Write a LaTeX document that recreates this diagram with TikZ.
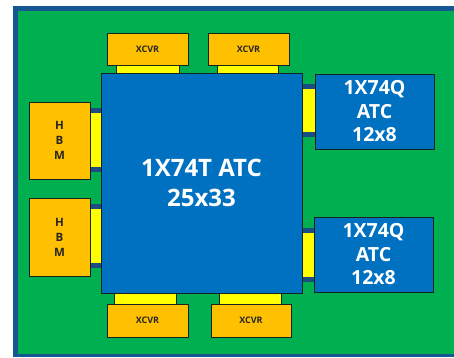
\documentclass[tikz,border=0pt]{standalone}
\usepackage{fontspec}
\setmainfont{Open Sans}
\definecolor{boardgreen}{RGB}{0,176,80}
\definecolor{boardedge}{RGB}{22,86,146}
\definecolor{chipblue}{RGB}{0,112,192}
\definecolor{memorange}{RGB}{255,192,0}
\definecolor{linkyellow}{RGB}{255,255,0}
\definecolor{bandblue}{RGB}{24,78,130}
\definecolor{outline}{RGB}{25,35,30}
\begin{document}
\begin{tikzpicture}[x=1pt,y=-1pt,
  box/.style={draw=outline,line width=0.8pt,inner sep=0pt,outer sep=0pt,anchor=center},
  chip/.style={box,fill=chipblue,text=white,font=\bfseries,align=center},
  mem/.style={box,fill=memorange,text=black!85,font=\bfseries,align=center},
  band/.style={fill=bandblue,draw=none,inner sep=0pt,outer sep=0pt,anchor=center},
  link/.style={fill=linkyellow,draw=none,inner sep=0pt,outer sep=0pt,anchor=center},
  linkbox/.style={fill=linkyellow,draw=outline,line width=0.6pt,inner sep=0pt,outer sep=0pt,anchor=center}]
\useasboundingbox (0,0) rectangle (454,357);
% board
\fill[boardedge] (13,6) rectangle (454,357);
\fill[boardgreen] (18,11) rectangle (454,354);
% right-side links
\node[band,minimum width=13pt,minimum height=53pt] (bandR1) at (308.5,110.5) {};
\node[link,minimum width=13pt,minimum height=43pt] (linkR1) at (308.5,110.5) {};
\node[band,minimum width=12pt,minimum height=54pt] (bandR2) at (308,255) {};
\node[link,minimum width=12pt,minimum height=44pt] (linkR2) at (308,255) {};
% left-side links
\node[band,minimum width=11pt,minimum height=64pt] (bandL1) at (95.5,140) {};
\node[link,minimum width=11pt,minimum height=54pt] (linkL1) at (95.5,140) {};
\node[band,minimum width=11pt,minimum height=64pt] (bandL2) at (95.5,236) {};
\node[link,minimum width=11pt,minimum height=54pt] (linkL2) at (95.5,236) {};
% top/bottom links
\node[linkbox,minimum width=63pt,minimum height=8pt] (linkT1) at (147.5,69) {};
\node[linkbox,minimum width=61pt,minimum height=8pt] (linkT2) at (247.5,69) {};
\node[linkbox,minimum width=62pt,minimum height=11pt] (linkB1) at (145,298.5) {};
\node[linkbox,minimum width=62pt,minimum height=11pt] (linkB2) at (250,298.5) {};
% main die
\node[chip,minimum width=201pt,minimum height=220pt,font=\bfseries\fontsize{24}{30}\selectfont] (main) at (201.5,183) {1X74T ATC\\25x33};
% right chiplets
\node[chip,minimum width=119pt,minimum height=75pt,font=\bfseries\fontsize{19.5}{23.5}\selectfont] (atc1) at (374.5,111.5) {1X74Q\\ATC\\12x8};
\node[chip,minimum width=119pt,minimum height=75pt,font=\bfseries\fontsize{19.5}{23.5}\selectfont] (atc2) at (373.5,254.5) {1X74Q\\ATC\\12x8};
% HBM
\node[mem,minimum width=61pt,minimum height=77pt,font=\bfseries\fontsize{11.5}{15}\selectfont] (hbm1) at (59.5,140.5) {H\\B\\M};
\node[mem,minimum width=61pt,minimum height=78pt,font=\bfseries\fontsize{11.5}{15}\selectfont] (hbm2) at (59.5,237) {H\\B\\M};
% XCVRs
\node[mem,minimum width=81pt,minimum height=32pt,font=\bfseries\fontsize{9}{11}\selectfont] (x1) at (147.5,49) {XCVR};
\node[mem,minimum width=81pt,minimum height=32pt,font=\bfseries\fontsize{9}{11}\selectfont] (x2) at (248.5,49) {XCVR};
\node[mem,minimum width=81pt,minimum height=33pt,font=\bfseries\fontsize{9}{11}\selectfont] (x3) at (147.5,320.5) {XCVR};
\node[mem,minimum width=80pt,minimum height=33pt,font=\bfseries\fontsize{9}{11}\selectfont] (x4) at (251,320.5) {XCVR};
\end{tikzpicture}
\end{document}
